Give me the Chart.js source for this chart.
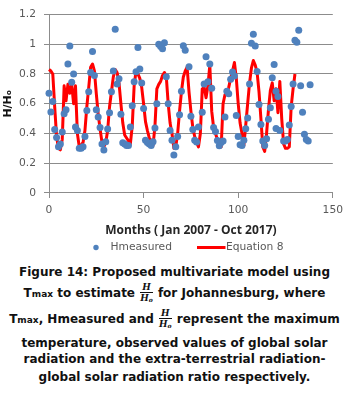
<!DOCTYPE html>
<html>
<head>
<meta charset="utf-8">
<script src="https://cdn.jsdelivr.net/npm/chart.js@4.4.0/dist/chart.umd.min.js"></script>
<style>
  html, body { margin: 0; padding: 0; background: #fff; }
  #wrap { position: relative; width: 349px; height: 396px; overflow: hidden; }
  #chart { position: absolute; left: 0; top: 0; }
  .cap { position: absolute; left: 0; width: 349px; text-align: center; white-space: nowrap;
         font: bold 12px "DejaVu Sans", sans-serif; color: #111; height: 17px; line-height: 17px; }
  .small { font-size: 9px; }
  .frac { display: inline-block; vertical-align: middle; text-align: center; margin: -10px 1px;
          font: italic bold 9px "DejaVu Serif", serif; line-height: 10px; }
  .frac .n { display: block; border-bottom: 1px solid #111; padding: 0 1px; }
  .frac .d { display: block; }
  .frac sub { font-size: 6px; vertical-align: -1px; }
</style>
</head>
<body>
<div id="wrap">
  <canvas id="chart" width="349" height="258"></canvas>
  <div class="cap" style="top:264px">Figure 14: Proposed multivariate model using</div>
  <div class="cap" style="top:285px">T<span class="small">max</span> to estimate <span class="frac"><span class="n">H</span><span class="d">H<sub>o</sub></span></span> for Johannesburg, where</div>
  <div class="cap" style="top:311px">T<span class="small">max</span>, Hmeasured and <span class="frac"><span class="n">H</span><span class="d">H<sub>o</sub></span></span> represent the maximum</div>
  <div class="cap" style="top:335px">temperature, observed values of global solar</div>
  <div class="cap" style="top:351px">radiation and the extra-terrestrial radiation-</div>
  <div class="cap" style="top:369px">global solar radiation ratio respectively.</div>
</div>
<script>
var hMonths = [0,1,2,3,4,5,6,7,8,9,10,11,12,13,14,15,16,17,18,19,20,21,22,23,24,25,26,27,28,29,
  30,31,32,33,34,35,36,37,38,39,40,41,42,43,44,45,46,47,48,49,50,51,52,53,54,55,56,57,58,59,
  60,61,62,63,64,65,66,67,68,69,70,71,72,74,75,76,77,78,79,81,82,83,84,85,86,87,88,89,90,91,
  92,93,94,95,96,97,98,99,100,101,102,103,104,105,106,107,108,109,110,111,112,113,114,115,116,117,118,119,
  120,120,121,122,124,125,126,127,128,129,130,131,132,133,134,135,136,137,138];
var hMeasured = [0.67,0.545,0.615,0.427,0.373,0.31,0.33,0.41,0.533,0.56,0.867,0.987,0.745,0.80,0.444,0.42,0.30,0.30,0.31,0.38,
  0.555,0.68,0.81,0.95,0.79,0.56,0.51,0.44,0.33,0.289,0.344,0.43,0.54,0.68,0.82,1.10,0.733,0.767,0.529,0.338,
  0.33,0.32,0.32,0.444,0.587,0.747,0.815,0.977,0.833,0.74,0.567,0.355,0.34,0.33,0.32,0.345,0.437,0.60,1.0,0.985,
  0.97,1.01,0.782,0.60,0.42,0.355,0.255,0.31,0.38,0.525,0.684,0.989,0.96,0.848,0.515,0.427,0.355,0.342,0.444,0.542,
  0.733,0.915,0.747,0.867,0.704,0.44,0.413,0.352,0.318,0.34,0.35,0.511,0.684,0.667,0.764,0.813,0.787,0.52,0.38,0.324,
  0.32,0.355,0.431,0.504,0.733,1.007,1.067,0.987,0.817,0.595,0.46,0.35,0.32,0.364,0.495,0.573,0.775,0.864,
  0.684,0.433,0.649,0.42,0.349,0.349,0.36,0.457,0.582,0.733,1.027,1.013,1.093,0.72,0.542,0.395,0.36,0.35,0.727];

// Equation 8 model, one value per month from 0
var eq8 = [0.83,0.82,0.80,0.58,0.38,0.30,0.29,0.36,0.72,0.62,0.73,0.67,0.73,0.60,0.72,0.40,0.31,0.32,0.34,0.42,
  0.58,0.71,0.845,0.867,0.82,0.667,0.53,0.43,0.34,0.31,0.34,0.42,0.58,0.68,0.78,0.83,0.81,0.74,0.60,0.47,
  0.39,0.37,0.35,0.33,0.45,0.72,0.82,0.80,0.77,0.71,0.60,0.48,0.42,0.37,0.35,0.32,0.45,0.70,0.73,0.75,
  0.79,0.81,0.78,0.60,0.47,0.40,0.30,0.31,0.40,0.55,0.68,0.78,0.82,0.845,0.68,0.55,0.44,0.38,0.34,0.31,
  0.40,0.70,0.71,0.64,0.72,0.86,0.55,0.44,0.40,0.36,0.32,0.31,0.60,0.66,0.67,0.71,0.77,0.82,0.877,0.77,
  0.60,0.47,0.40,0.32,0.46,0.60,0.74,0.84,0.89,0.86,0.81,0.68,0.50,0.31,0.28,0.40,0.56,0.69,0.74,0.62,
  0.70,0.54,0.75,0.50,0.33,0.30,0.30,0.31,0.58,0.70,0.80];

var xTicks = [0, 50, 100, 150];
var yTicks = [0, 0.2, 0.4, 0.6, 0.8, 1, 1.2];

var scatterPts = hMeasured.map(function(v, i){ return {x: hMonths[i], y: v}; });
var linePts = eq8.map(function(v, i){ return {x: i, y: v}; });

// legend row drawn under the axis title, like the excel one
var legendRow = {
  id: 'legendRow',
  afterDraw: function(chart){
    var ctx = chart.ctx;
    var y = chart.chartArea.bottom + 54.5;
    var ds = chart.data.datasets;
    ctx.save();
    ctx.font = '10.7px "DejaVu Sans"';
    ctx.textBaseline = 'middle';
    ctx.beginPath();
    ctx.arc(96, y, 2.7, 0, Math.PI * 2);
    ctx.fillStyle = ds[0].backgroundColor;
    ctx.fill();
    ctx.fillStyle = '#595959';
    ctx.fillText(ds[0].label, 110.5, y);
    ctx.strokeStyle = ds[1].borderColor;
    ctx.lineWidth = 3;
    ctx.beginPath();
    ctx.moveTo(197, y);
    ctx.lineTo(225.5, y);
    ctx.stroke();
    ctx.fillText(ds[1].label, 226, y);
    ctx.restore();
  }
};

function tickText(v){ return String(+(+v).toFixed(1)); }

const config_hratio = {
  type: 'scatter',
  data: {
    datasets: [{
      label: 'Hmeasured',
      data: scatterPts,
      backgroundColor: '#4f81bd',
      borderWidth: 0,
      pointRadius: 3.5,
      order: 1,
      clip: false
    }, {
      type: 'line',
      label: 'Equation 8',
      data: linePts,
      borderColor: '#ff0000',
      borderWidth: 3,
      borderJoinStyle: 'round',
      pointRadius: 0,
      tension: 0,
      order: 2,
      clip: false
    }]
  },
  options: {
    responsive: false,
    animation: false,
    layout: { padding: { left: 0, right: 16, top: 13, bottom: 20 } },
    plugins: { legend: { display: false }, tooltip: { enabled: false } },
    scales: {
      x: {
        type: 'linear', min: 0, max: 150,
        afterFit: function(s){ s.height = 45; },
        afterBuildTicks: function(s){ s.ticks = xTicks.map(function(v){ return {value: v}; }); },
        ticks: { color: '#595959', font: { family: 'DejaVu Sans', size: 10.7 }, padding: 6, maxRotation: 0, callback: tickText },
        grid: { drawOnChartArea: false, tickLength: 5, color: '#8c8c8c' },
        border: { color: '#8c8c8c' },
        title: { display: true, text: 'Months ( Jan 2007 - Oct 2017)', color: '#262626',
                 font: { family: 'Open Sans', size: 12, weight: 'bold' }, padding: { top: 4, bottom: 0 } }
      },
      y: {
        min: 0, max: 1.2,
        afterFit: function(s){ s.width = 49; },
        afterBuildTicks: function(s){ s.ticks = yTicks.map(function(v){ return {value: v}; }); },
        ticks: { color: '#595959', font: { family: 'DejaVu Sans', size: 10.7 }, padding: 8, callback: tickText },
        grid: { tickLength: 5, color: '#8c8c8c' },
        border: { color: '#8c8c8c' },
        title: { display: true, text: 'H/Hₒ', color: '#111',
                 font: { family: 'DejaVu Sans', size: 11, weight: 'bold' }, padding: { top: 2, bottom: 0 } }
      }
    }
  },
  plugins: [legendRow]
};

const hratioChart = new Chart(document.getElementById('chart'), config_hratio);
</script>
</body>
</html>
